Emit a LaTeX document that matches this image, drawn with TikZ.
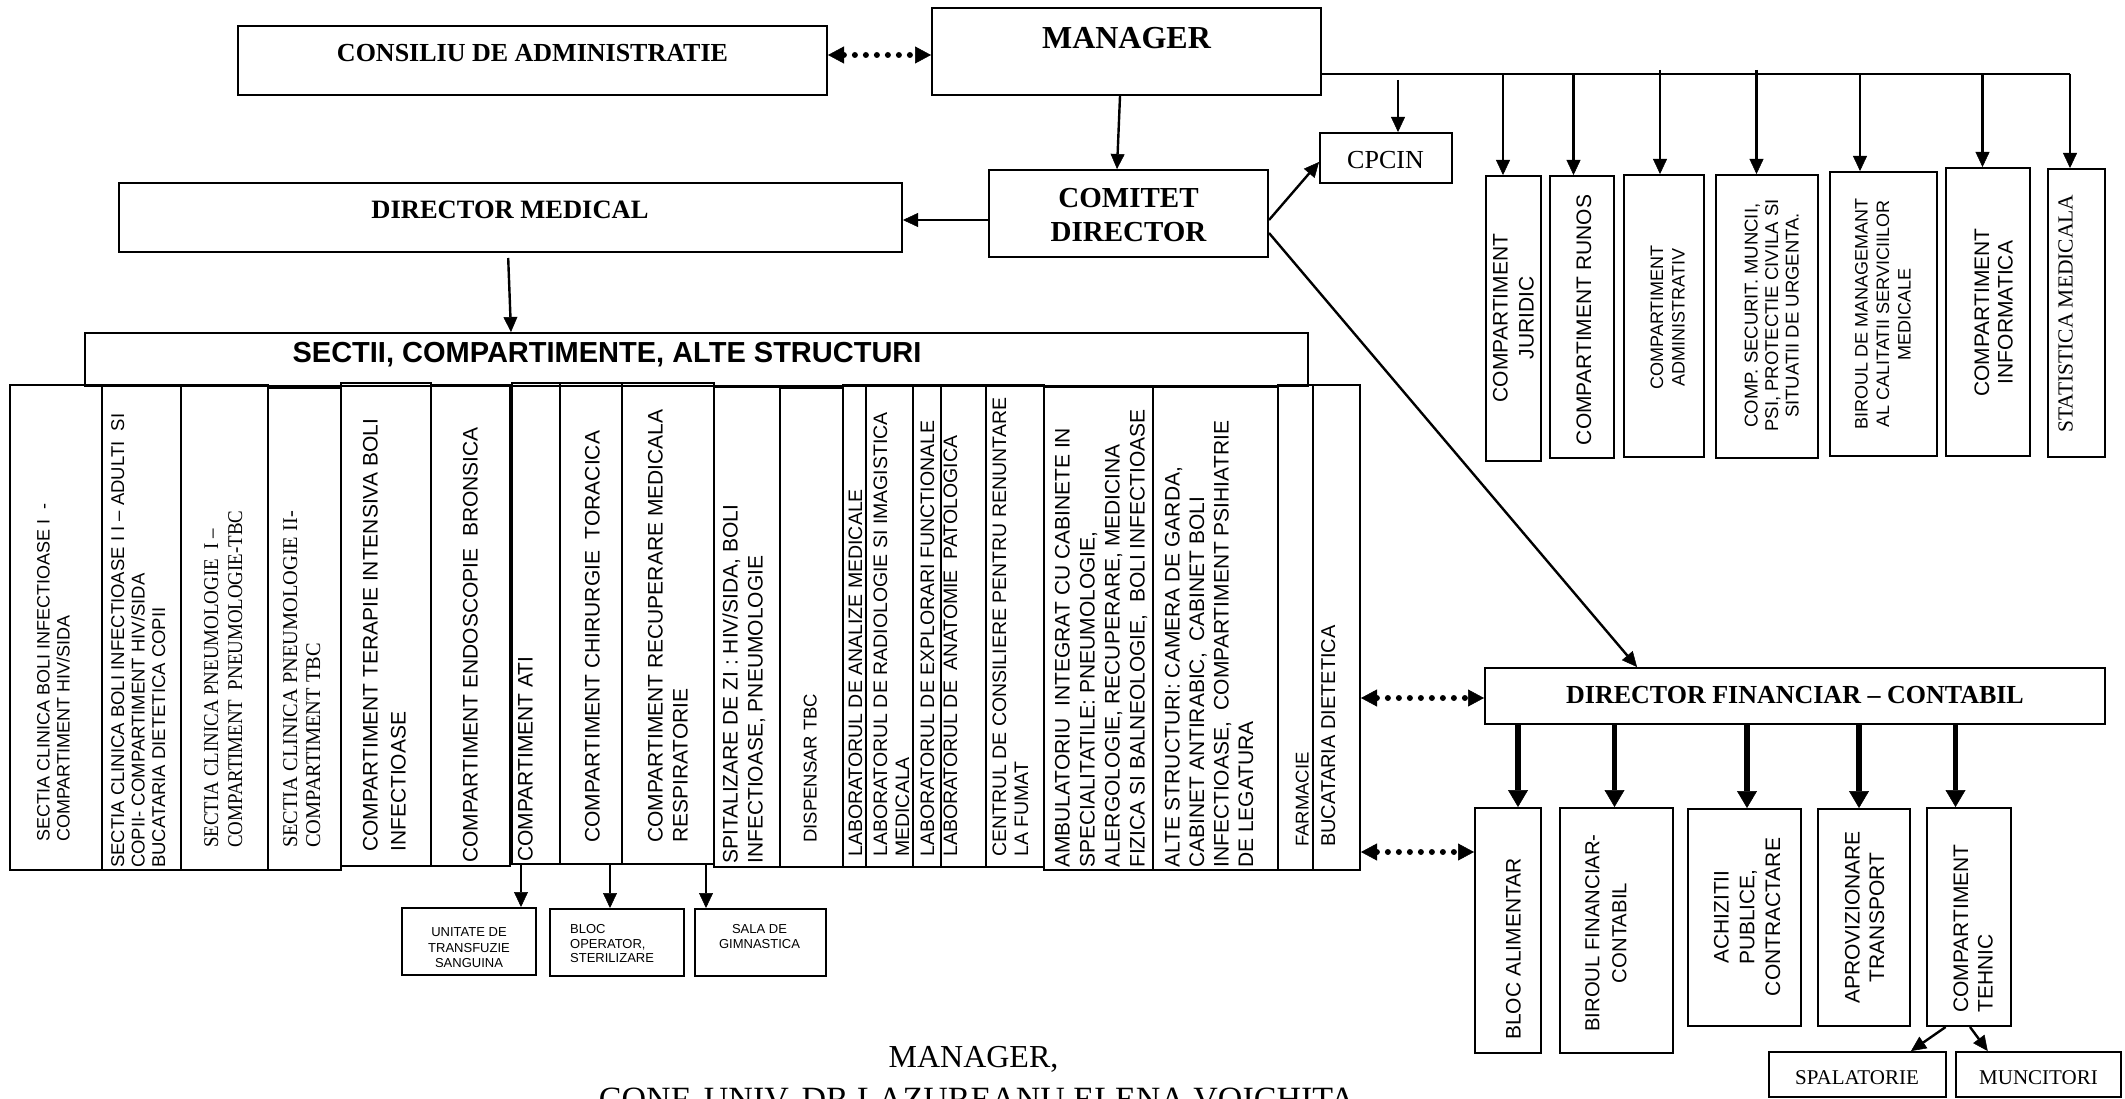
\documentclass[tikz,border=0pt]{standalone}
\usepackage{fontspec}
\usepackage{graphicx}
\setmainfont{Liberation Serif}
\newfontfamily\ars{Liberation Sans}
\usetikzlibrary{arrows.meta,fit}
\newcommand\vt[1]{\begin{tabular}[t]{@{}l@{}}#1\end{tabular}}
\newcommand\vc[1]{\begin{tabular}[t]{@{}c@{}}#1\end{tabular}}
\newcommand\fa[2]{\ars\fontsize{#1}{#2}\selectfont}
\newcommand\ft[2]{\rmfamily\fontsize{#1}{#2}\selectfont}
\newcommand\bx[5]{\node[bx, fit={(#2,#3) (#4,#5)}] (#1) {};}
\begin{document}
\begin{tikzpicture}[x=1pt,y=-1pt,
  bx/.style={draw, line width=2pt, inner sep=0pt},
  ln/.style={line width=2.4pt},
  arr/.style={line width=2.4pt, -{Triangle[length=15pt,width=14pt,line width=0.5pt]}},
  tarr/.style={line width=5.5pt, -{Triangle[length=17pt,width=20pt,line width=0.5pt]}},
  darr/.style={line width=6pt, line cap=round, dash pattern=on 0pt off 11pt,
    {Triangle[length=16pt,width=17pt,line width=0.5pt]}-{Triangle[length=16pt,width=17pt,line width=0.5pt]}},
  vl/.style={rotate=90, inner sep=0pt, anchor=base west},
  vm/.style={rotate=90, inner sep=0pt, anchor=base},
  hm/.style={inner sep=0pt, anchor=base},
  hl/.style={inner sep=0pt, anchor=base west}]
\fill[white] (0,0) rectangle (2125,1099);
\useasboundingbox (0,0) rectangle (2125,1099);

% ---------- helper coordinates ----------
\coordinate (y55) at (0,55);
\coordinate (y74) at (0,74);
\coordinate (y162) at (0,162);
\coordinate (y220) at (0,220);
\coordinate (y233) at (0,233);
\coordinate (y698) at (0,698);
\coordinate (y852) at (0,852);
\coordinate (x1120) at (1120,0);
\coordinate (x1117) at (1117,0);
\coordinate (x508) at (508,0);
\coordinate (x511) at (511,0);
\coordinate (x1637) at (1637,0);
\coordinate (q) at (1398,80);
\coordinate (hend) at (2070,74);
\coordinate (k1) at (1503,74);
\coordinate (k2) at (1573.5,74);
\coordinate (k3) at (1660,70);
\coordinate (k4) at (1756.5,70);
\coordinate (k5) at (1860,74);
\coordinate (k6) at (1982.5,74);
\coordinate (f1) at (1518,0);
\coordinate (f2) at (1614.5,0);
\coordinate (f3) at (1747,0);
\coordinate (f4) at (1859,0);
\coordinate (f5) at (1955.5,0);
\coordinate (g1) at (1945.6,0);
\coordinate (g2) at (1911,0);
\coordinate (g3) at (1970,0);
\coordinate (g4) at (1987.7,0);
\coordinate (a1) at (521,0);
\coordinate (a2) at (610,0);
\coordinate (a3) at (706,0);

% ---------- top ----------
\bx{cons}{238}{26}{827}{95}
\node[hm, font=\ft{26}{30}\bfseries] (tcons) at (532.5,61.8) {CONSILIU DE ADMINISTRATIE};
\bx{mgr}{932}{8}{1321}{95}
\node[hm, font=\ft{32}{36}\bfseries] (tmgr) at (1126.5,48.8) {MANAGER};
\bx{com}{989}{170}{1268}{257}
\node[hm, font=\ft{29}{34}\bfseries] (tcom) at (1128.5,207.8) {\vc{COMITET\\DIRECTOR}};
\bx{cp}{1320}{133}{1452}{183}
\node[hm, font=\ft{26}{30}] (tcp) at (1385.5,168.6) {CPCIN};
\bx{dm}{119}{183}{902}{252}
\node[hm, font=\ft{26.5}{30}\bfseries] (tdm) at (510,219) {DIRECTOR MEDICAL};

% ---------- right boxes ----------
\bx{rb1}{1486}{176}{1541}{461}
\node[vm, font=\fa{21}{26}] (trb1) at (1507.5,318) {\vc{COMPARTIMENT\\JURIDIC}};
\bx{rb2}{1550}{176}{1614}{458}
\node[vm, font=\fa{21}{26}] (trb2) at (1591,320) {COMPARTIMENT RUNOS};
\bx{rb3}{1624}{175}{1704}{457}
\node[vm, font=\fa{18}{21.5}] (trb3) at (1663,317.5) {\vc{COMPARTIMENT\\ADMINISTRATIV}};
\bx{rb4}{1716}{175}{1818}{458}
\node[vm, font=\fa{18.5}{20.5}] (trb4) at (1757.6,315.5) {\vc{COMP. SECURIT. MUNCII,\\PSI, PROTECTIE CIVILA SI\\SITUATII DE URGENTA.}};
\bx{rb5}{1830}{172}{1937}{456}
\node[vm, font=\fa{18}{21.5}] (trb5) at (1867.5,314) {\vc{BIROUL DE MANAGEMANT\\AL CALITATII SERVICIILOR\\MEDICALE}};
\bx{rb6}{1946}{168}{2030}{456}
\node[vm, font=\fa{21}{23.5}] (trb6) at (1989,312.5) {\vc{COMPARTIMENT\\INFORMATICA}};
\bx{rb7}{2047.5}{169}{2105}{457}
\node[vm, font=\ft{21.5}{24}] (trb7) at (2072.7,313.5) {STATISTICA MEDICALA};

% ---------- sectii ----------
\bx{sec}{85}{333}{1308}{386}
\node[hm, font=\fa{29}{34}\bfseries] (tsec) at (607,362.4) {SECTII, COMPARTIMENTE, ALTE STRUCTURI};

\bx{c1}{10}{385}{102}{870}
\node[vl, font=\fa{18}{20}] (t1) at (49.5,842) {\vt{SECTIA CLINICA BOLI INFECTIOASE I\ \ -\\COMPARTIMENT HIV/SIDA}};
\bx{c2}{102}{385}{181}{870}
\node[vl, font=\fa{18.5}{20.5}] (t2) at (124,868) {\vt{SECTIA CLINICA BOLI INFECTIOASE I I – ADULTI\ \ SI\\COPII- COMPARTIMENT HIV/SIDA\\BUCATARIA DIETETICA COPII}};
\bx{c3}{181}{385}{268}{870}
\node[vl, font=\ft{21}{24}] (t3) at (218,848) {\scalebox{0.9}[1]{\vt{SECTIA CLINICA PNEUMOLOGIE\ \ I –\\COMPARTIMENT\ \ PNEUMOLOGIE-TBC}}};
\bx{c4}{268}{388}{341}{870}
\node[vl, font=\ft{21}{23}] (t4) at (297,848) {\scalebox{0.97}[1]{\vt{SECTIA CLINICA PNEUMOLOGIE II-\\COMPARTIMENT TBC}}};
\bx{c5}{341}{383}{431}{866}
\node[vl, font=\fa{21}{28}] (t5) at (377.5,852) {\vt{COMPARTIMENT TERAPIE INTENSIVA BOLI\\INFECTIOASE}};
\bx{c6}{431}{385}{510}{866}
\node[vl, font=\fa{21}{25}] (t6) at (477.5,863) {COMPARTIMENT ENDOSCOPIE\ \ BRONSICA};
\bx{c7}{512}{383}{560}{864}
\node[vl, font=\fa{21}{25}] (t7) at (532.5,862) {COMPARTIMENT ATI};
\bx{c8}{560}{383}{622}{864}
\node[vl, font=\fa{21}{25}] (t8) at (599.5,843) {COMPARTIMENT CHIRURGIE\ \ TORACICA};
\bx{c9}{622}{383}{714}{864}
\node[vl, font=\fa{21}{25}] (t9) at (662.5,843) {\vt{COMPARTIMENT RECUPERARE MEDICALA\\RESPIRATORIE}};
\bx{c10}{714}{387}{780}{867}
\node[vl, font=\fa{21}{25}] (t10) at (737.5,864) {\vt{SPITALIZARE DE ZI : HIV/SIDA, BOLI\\INFECTIOASE, PNEUMOLOGIE}};
\bx{c11}{780}{388}{843}{867}
\node[vl, font=\fa{18.5}{22}] (t11) at (816.6,843) {DISPENSAR TBC};
\bx{c12}{843}{385}{866}{867}
\node[vl, font=\fa{19.5}{22}] (t12) at (862,857) {LABORATORUL DE ANALIZE MEDICALE};
\bx{c13}{866}{385}{913}{867}
\node[vl, font=\fa{19.5}{22}] (t13) at (887,857) {\vt{LABORATORUL DE RADIOLOGIE SI IMAGISTICA\\MEDICALA}};
\bx{c14}{913}{385}{941}{867}
\node[vl, font=\fa{19.5}{22}] (t14) at (934,857) {LABORATORUL DE EXPLORARI FUNCTIONALE};
\bx{c15}{941}{385}{986}{867}
\node[vl, font=\fa{19.5}{22}] (t15) at (957,857) {LABORATORUL DE\ \ ANATOMIE\ \ PATOLOGICA};
\bx{c16}{986}{385}{1044}{867}
\node[vl, font=\fa{19.5}{22}] (t16) at (1006,857) {\vt{CENTRUL DE CONSILIERE PENTRU RENUNTARE\\LA FUMAT}};
\bx{c17}{1044}{387}{1153}{870}
\node[vl, font=\fa{21}{25}] (t17) at (1069.5,868) {\vt{AMBULATORIU\ \ INTEGRAT CU CABINETE IN\\SPECIALITATILE: PNEUMOLOGIE,\\ALERGOLOGIE, RECUPERARE, MEDICINA\\FIZICA SI BALNEOLOGIE,\ \ BOLI INFECTIOASE}};
\bx{c18}{1153}{387}{1278}{870}
\node[vl, font=\fa{21}{24.5}] (t18) at (1179.5,868) {\vt{ALTE STRUCTURI: CAMERA DE GARDA,\\CABINET ANTIRABIC,\ \ CABINET BOLI\\INFECTIOASE,\ \ COMPARTIMENT PSIHIATRIE\\DE LEGATURA}};
\bx{c19}{1278}{385}{1313}{870}
\node[vl, font=\fa{18.5}{22}] (t19) at (1308.6,847) {FARMACIE};
\bx{c20}{1313}{385}{1360}{870}
\node[vl, font=\fa{20}{24}] (t20) at (1335,847) {BUCATARIA DIETETICA};

% ---------- small boxes under columns ----------
\bx{u}{402}{908}{536}{975}
\node[hm, font=\fa{13}{15.5}] (tu) at (469,936.6) {\vc{UNITATE DE\\TRANSFUZIE\\SANGUINA}};
\bx{bo}{550}{909}{684}{976}
\node[hl, font=\fa{13}{14.5}] (tbo) at (570,933.6) {\vt{BLOC\\OPERATOR,\\STERILIZARE}};
\bx{sg}{695}{909}{826}{976}
\node[hm, font=\fa{13}{15}] (tsg) at (759.5,933.6) {\vc{SALA DE\\GIMNASTICA}};

% ---------- financial ----------
\bx{df}{1485}{668}{2105}{724}
\node[hm, font=\ft{26}{30}\bfseries] (tdf) at (1795,703.8) {DIRECTOR FINANCIAR – CONTABIL};
\bx{bb1}{1475}{808}{1541}{1053}
\node[vl, font=\fa{21}{25}] (tbb1) at (1520.5,1040) {BLOC ALIMENTAR};
\bx{bb2}{1560}{808}{1673}{1053}
\node[vm, font=\fa{20.3}{27}] (tbb2) at (1599.3,933) {\vc{BIROUL FINANCIAR-\\CONTABIL}};
\bx{bb3}{1688}{809}{1801}{1026}
\node[vm, font=\fa{21}{25.8}] (tbb3) at (1728.5,917) {\vc{ACHIZITII\\PUBLICE,\\CONTRACTARE}};
\bx{bb4}{1818}{809}{1910}{1026}
\node[vm, font=\fa{21}{24.5}] (tbb4) at (1859.5,917.5) {\vc{APROVIZIONARE\\TRANSPORT}};
\bx{bb5}{1927}{808}{2011}{1026}
\node[vl, font=\fa{21}{24.5}] (tbb5) at (1968,1013) {\vt{COMPARTIMENT\\TEHNIC}};
\bx{sp}{1769}{1052}{1946}{1097}
\node[hm, font=\ft{21}{24}] (tsp) at (1857,1084) {SPALATORIE};
\bx{mu}{1955.5}{1052}{2121}{1097}
\node[hm, font=\ft{21}{24}] (tmu) at (2038.5,1084) {MUNCITORI};

% ---------- signature ----------
\node[hm, font=\ft{32}{40}] (sig1) at (973.5,1067) {MANAGER,};
\node[hm, font=\ft{34}{40}] (sig2) at (977,1110.5) {CONF. UNIV. DR LAZUREANU ELENA VOICHITA};

% ---------- connectors ----------
\draw[darr] (cons.east |- y55) -- (mgr.west |- y55);
\draw[arr] (mgr.south -| x1120) -- (com.north -| x1117);
\draw[ln] (mgr.east |- y74) -- (hend);
\draw[arr] (q) -- (cp.north -| q);
\draw[arr] (k1) -- (rb1.north -| k1);
\draw[arr] (k2) -- (rb2.north -| k2);
\draw[arr] (k3) -- (rb3.north -| k3);
\draw[arr] (k4) -- (rb4.north -| k4);
\draw[arr] (k5) -- (rb5.north -| k5);
\draw[arr] (k6) -- (rb6.north -| k6);
\draw[arr] (hend) -- (rb7.north -| hend);
\draw[arr] (com.west |- y220) -- (dm.east |- y220);
\draw[arr] (com.east |- y220) -- (cp.west |- y162);
\draw[arr] (com.east |- y233) -- (df.north -| x1637);
\draw[arr, shorten <=5pt] (dm.south -| x508) -- (sec.north -| x511);

\draw[arr] (c7.south -| a1) -- (u.north -| a1);
\draw[arr] (c8.south -| a2) -- (bo.north -| a2);
\draw[arr] (c9.south -| a3) -- (sg.north -| a3);

\draw[darr] (c20.east |- y698) -- (df.west |- y698);
\draw[darr] (c20.east |- y852) -- (bb1.west |- y852);
\draw[tarr] (df.south -| f1) -- (bb1.north -| f1);
\draw[tarr] (df.south -| f2) -- (bb2.north -| f2);
\draw[tarr] (df.south -| f3) -- (bb3.north -| f3);
\draw[tarr] (df.south -| f4) -- (bb4.north -| f4);
\draw[tarr] (df.south -| f5) -- (bb5.north -| f5);
\draw[arr] (bb5.south -| g1) -- (sp.north -| g2);
\draw[arr] (bb5.south -| g3) -- (mu.north -| g4);
\end{tikzpicture}
\end{document}
